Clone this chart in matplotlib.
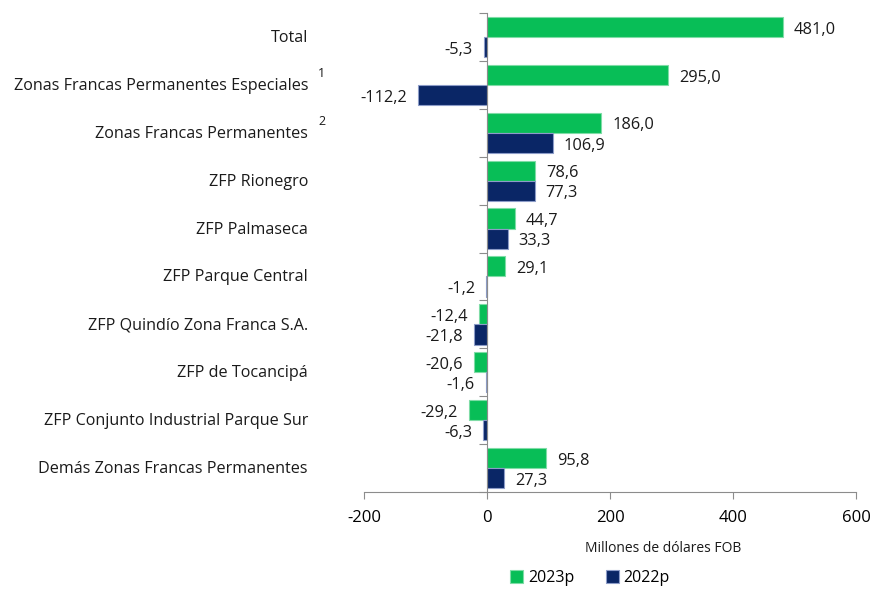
# -*- coding: utf-8 -*-
# Balanza comercial por zona franca, 2023p vs 2022p
import numpy as np
import matplotlib
matplotlib.use('Agg')
import matplotlib.pyplot as plt

plt.rcParams['font.family'] = ['Open Sans', 'DejaVu Sans']

# ============================================================
# Datos
# ============================================================
categorias = [
    'Total',
    'Zonas Francas Permanentes Especiales',
    'Zonas Francas Permanentes',
    'ZFP Rionegro',
    'ZFP Palmaseca',
    'ZFP Parque Central',
    'ZFP Quindío Zona Franca S.A.',
    'ZFP de Tocancipá',
    'ZFP Conjunto Industrial Parque Sur',
    'Demás Zonas Francas Permanentes',
]
notas = ['', '1', '2', '', '', '', '', '', '', '']
v2023 = [481.0, 295.0, 186.0, 78.6, 44.7, 29.1, -12.4, -20.6, -29.2, 95.8]
v2022 = [-5.3, -112.2, 106.9, 77.3, 33.3, -1.2, -21.8, -1.6, -6.3, 27.3]

verde = '#08BE57'
azul = '#0A2666'
gris = '#8C8C8C'

def fmt(v):
    return f'{v:.1f}'.replace('.', ',')

# ============================================================
# Gráfico
# ============================================================
fig = plt.figure(figsize=(8.73, 5.9), dpi=100)
ax = fig.add_axes([0.417, 0.166, 0.5635, 0.812])

y = np.arange(len(categorias))
h = 0.42
ax.barh(y - h / 2, v2023, height=h, color=verde, edgecolor='#7FDCA6',
        linewidth=0.8, label='2023p', zorder=2)
ax.barh(y + h / 2, v2022, height=h, color=azul, edgecolor='#8C9CC8',
        linewidth=0.8, label='2022p', zorder=2)

# etiquetas de valores
for yi, a, b in zip(y, v2023, v2022):
    for val, yy in ((a, yi - h / 2), (b, yi + h / 2)):
        if val >= 0:
            ax.annotate(fmt(val), (val, yy), xytext=(8, -2), textcoords='offset points',
                        ha='left', va='center', fontsize=11.8, color='#1a1a1a')
        else:
            ax.annotate(fmt(val), (val, yy), xytext=(-8, -2), textcoords='offset points',
                        ha='right', va='center', fontsize=11.8, color='#1a1a1a')

ax.set_xlim(-200, 600)
ax.set_ylim(len(categorias) - 0.5, -0.5)
ax.set_xticks([-200, 0, 200, 400, 600])
ax.set_xticklabels(['-200', '0', '200', '400', '600'], fontsize=12)
ax.tick_params(axis='x', length=5, color=gris, pad=8)

# eje vertical en cero con marcas entre categorías
ax.spines['left'].set_position(('data', 0))
ax.spines['left'].set_color(gris)
ax.spines['bottom'].set_color(gris)
ax.spines['top'].set_visible(False)
ax.spines['right'].set_visible(False)
ax.set_yticks(np.arange(-0.5, len(categorias), 1))
ax.set_yticklabels([])
ax.tick_params(axis='y', length=6, color=gris, direction='out')

# nombres de categorías
trans = matplotlib.transforms.blended_transform_factory(fig.transFigure, ax.transData)
for yi, nombre, nota in zip(y, categorias, notas):
    ax.text(308 / 873, yi + 0.02, nombre, transform=trans, ha='right', va='center',
            fontsize=11.6, color='#1a1a1a')
    if nota:
        ax.text(318 / 873, yi - 0.24, nota, transform=trans, ha='left', va='center',
                fontsize=9, color='#1a1a1a')

fig.text(663 / 873, 1 - 548 / 590, 'Millones de dólares FOB', ha='center',
         va='center', fontsize=10, color='#1a1a1a')

fig.legend(loc='center', bbox_to_anchor=(590 / 873, 1 - 578 / 590), ncol=2,
           frameon=False, fontsize=11.5, handlelength=0.8, handleheight=0.8,
           handletextpad=0.3, columnspacing=2.0)

plt.savefig('out.png', dpi=100)
plt.close()
